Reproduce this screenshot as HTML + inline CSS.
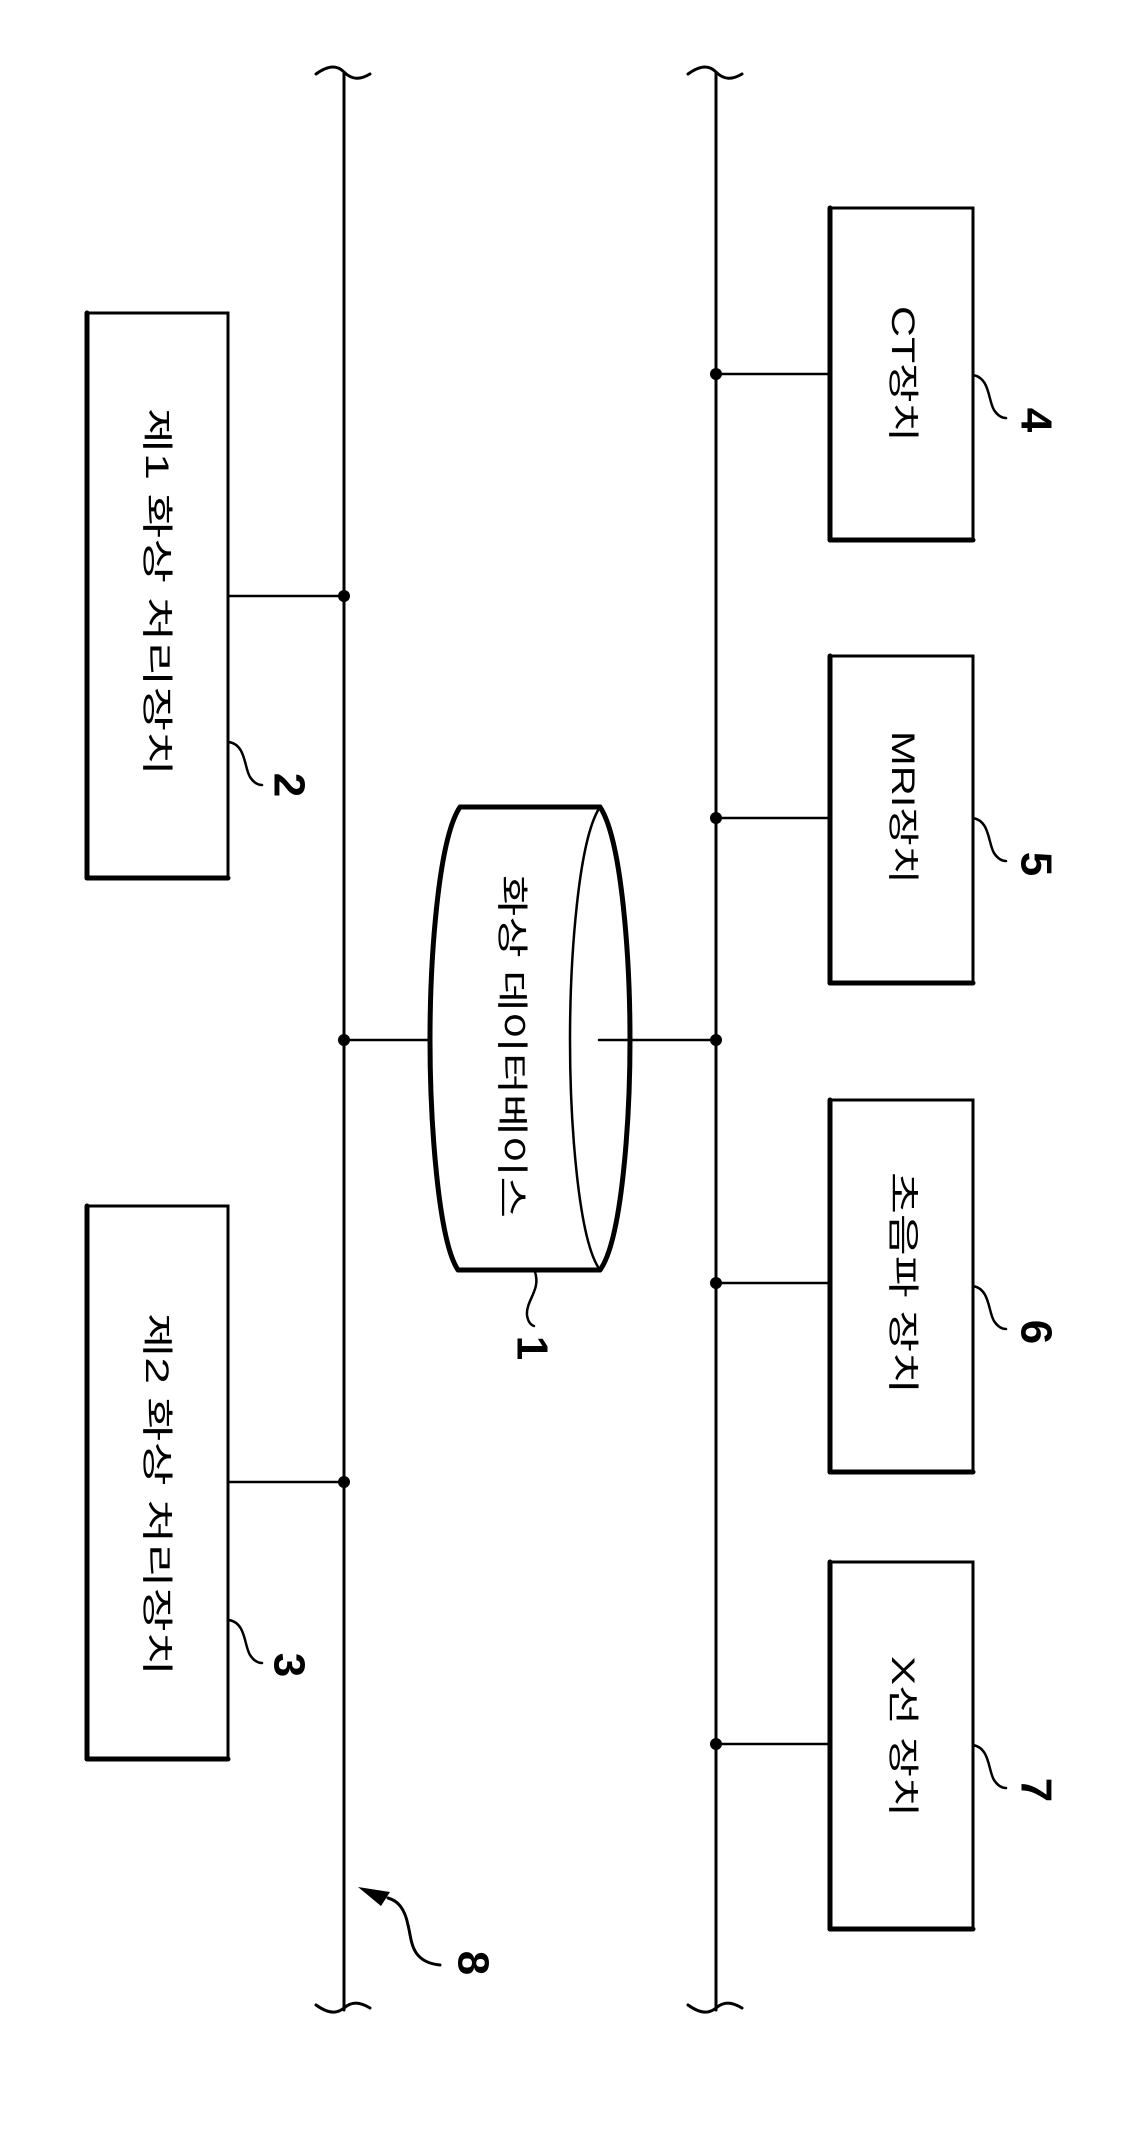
<!DOCTYPE html>
<html><head><meta charset="utf-8"><style>html,body{margin:0;padding:0;background:#fff}svg{display:block}</style></head>
<body>
<svg width="1125" height="2142" viewBox="0 0 1125 2142" xmlns="http://www.w3.org/2000/svg" font-family="'Liberation Sans','Noto Sans CJK KR','NanumGothic',sans-serif">
<g fill="none" stroke="#000" stroke-linecap="round">
<!-- buses -->
<line x1="344" y1="73" x2="344" y2="2010" stroke-width="3"/>
<line x1="716" y1="73" x2="716" y2="2010" stroke-width="3"/>
<path d="M316 74 C330 64 338 66 344 72 C352 80 360 80 370 74" stroke-width="3"/>
<path d="M688 74 C702 64 710 66 716 72 C724 80 732 80 742 74" stroke-width="3"/>
<path d="M316 2005 C330 2015 338 2013 344 2008 C352 2001 360 2002 370 2008" stroke-width="3"/>
<path d="M688 2005 C702 2015 710 2013 716 2008 C724 2001 732 2002 742 2008" stroke-width="3"/>
<!-- boxes -->
<rect x="87" y="313" width="141" height="565" stroke-width="3"/>
<line x1="87" y1="313" x2="87" y2="878" stroke-width="5"/><line x1="87" y1="878" x2="228" y2="878" stroke-width="5"/>
<rect x="87" y="1206" width="141" height="553" stroke-width="3"/>
<line x1="87" y1="1206" x2="87" y2="1759" stroke-width="5"/><line x1="87" y1="1759" x2="228" y2="1759" stroke-width="5"/>
<rect x="830" y="208" width="143" height="332" stroke-width="3"/>
<line x1="830" y1="208" x2="830" y2="540" stroke-width="5"/><line x1="830" y1="540" x2="973" y2="540" stroke-width="5"/>
<rect x="830" y="656" width="143" height="327" stroke-width="3"/>
<line x1="830" y1="656" x2="830" y2="983" stroke-width="5"/><line x1="830" y1="983" x2="973" y2="983" stroke-width="5"/>
<rect x="830" y="1100" width="143" height="372" stroke-width="3"/>
<line x1="830" y1="1100" x2="830" y2="1472" stroke-width="5"/><line x1="830" y1="1472" x2="973" y2="1472" stroke-width="5"/>
<rect x="830" y="1562" width="143" height="367" stroke-width="3"/>
<line x1="830" y1="1562" x2="830" y2="1929" stroke-width="5"/><line x1="830" y1="1929" x2="973" y2="1929" stroke-width="5"/>
<!-- connectors -->
<line x1="228" y1="596" x2="344" y2="596" stroke-width="2.5"/>
<line x1="228" y1="1482" x2="344" y2="1482" stroke-width="2.5"/>
<line x1="716" y1="374" x2="830" y2="374" stroke-width="2.5"/>
<line x1="716" y1="818" x2="830" y2="818" stroke-width="2.5"/>
<line x1="716" y1="1283" x2="830" y2="1283" stroke-width="2.5"/>
<line x1="716" y1="1744" x2="830" y2="1744" stroke-width="2.5"/>
<line x1="344" y1="1040" x2="430" y2="1040" stroke-width="2.5"/>
<line x1="599" y1="1040" x2="716" y2="1040" stroke-width="2.5"/>
<!-- cylinder -->
<path d="M600 807 L460 807 C438 840 430 960 430 1040 C430 1120 438 1240 458 1270 L600 1270" stroke-width="5" stroke-linejoin="round"/>
<path d="M600 807 C622 840 630 960 630 1040 C630 1120 622 1240 600 1270" stroke-width="5"/>
<path d="M600 807 C578 840 570 960 570 1040 C570 1120 578 1240 600 1270" stroke-width="2.5"/>
<!-- leaders -->
<path d="M973 375 C990 378 988 400 994 410 C998 416 1002 418 1006 418" stroke-width="2.5"/>
<path d="M973 818 C990 821 988 843 994 853 C998 859 1002 861 1006 861" stroke-width="2.5"/>
<path d="M973 1286 C990 1289 988 1311 994 1321 C998 1327 1002 1329 1006 1329" stroke-width="2.5"/>
<path d="M973 1745 C990 1748 988 1770 994 1780 C998 1786 1002 1788 1006 1788" stroke-width="2.5"/>
<path d="M229 742 C246 745 244 767 250 777 C254 783 258 785 262 785" stroke-width="2.5"/>
<path d="M229 1620 C246 1623 244 1645 250 1655 C254 1661 258 1663 262 1663" stroke-width="2.5"/>
<path d="M535 1272 C541 1290 526 1300 527 1315 C528 1322 531 1325 534 1326" stroke-width="2.5"/>
<path d="M440 1965 C410 1962 412 1940 408 1925 C404 1905 395 1900 388 1898" stroke-width="3"/>
</g>
<polygon points="358,1887 390,1892 381,1906" fill="#000"/>
<g fill="#000">
<circle cx="344" cy="596" r="6"/><circle cx="344" cy="1040" r="6"/><circle cx="344" cy="1482" r="6"/>
<circle cx="716" cy="374" r="6"/><circle cx="716" cy="818" r="6"/><circle cx="716" cy="1040" r="6"/>
<circle cx="716" cy="1283" r="6"/><circle cx="716" cy="1744" r="6"/>
</g>
<!-- box texts rotated cw -->
<g font-size="32" fill="#000" dominant-baseline="central" text-anchor="start">
<text transform="translate(157 408) rotate(90)" textLength="368" lengthAdjust="spacingAndGlyphs">제1 화상 처리장치</text>
<text transform="translate(157 1313) rotate(90)" textLength="363" lengthAdjust="spacingAndGlyphs">제2 화상 처리장치</text>
<text transform="translate(903 306) rotate(90)" textLength="136" lengthAdjust="spacingAndGlyphs">CT장치</text>
<text transform="translate(903 731) rotate(90)" textLength="153" lengthAdjust="spacingAndGlyphs">MRI장치</text>
<text transform="translate(903 1172) rotate(90)" textLength="222" lengthAdjust="spacingAndGlyphs">초음파 장치</text>
<text transform="translate(903 1656) rotate(90)" textLength="161" lengthAdjust="spacingAndGlyphs">X선 장치</text>
<text transform="translate(512 875) rotate(90)" textLength="343" lengthAdjust="spacingAndGlyphs">화상 데이터베이스</text>
</g>
<g font-size="44" font-weight="bold" fill="#000" dominant-baseline="central" text-anchor="middle">
<text transform="translate(1036 420) rotate(90)">4</text>
<text transform="translate(1036 864) rotate(90)">5</text>
<text transform="translate(1036 1332) rotate(90)">6</text>
<text transform="translate(1036 1790) rotate(90)">7</text>
<text transform="translate(289 785) rotate(90)">2</text>
<text transform="translate(289 1665) rotate(90)">3</text>
<text transform="translate(532 1348) rotate(90)">1</text>
<text transform="translate(473 1963) rotate(90)">8</text>
</g>
</svg>
</body></html>
